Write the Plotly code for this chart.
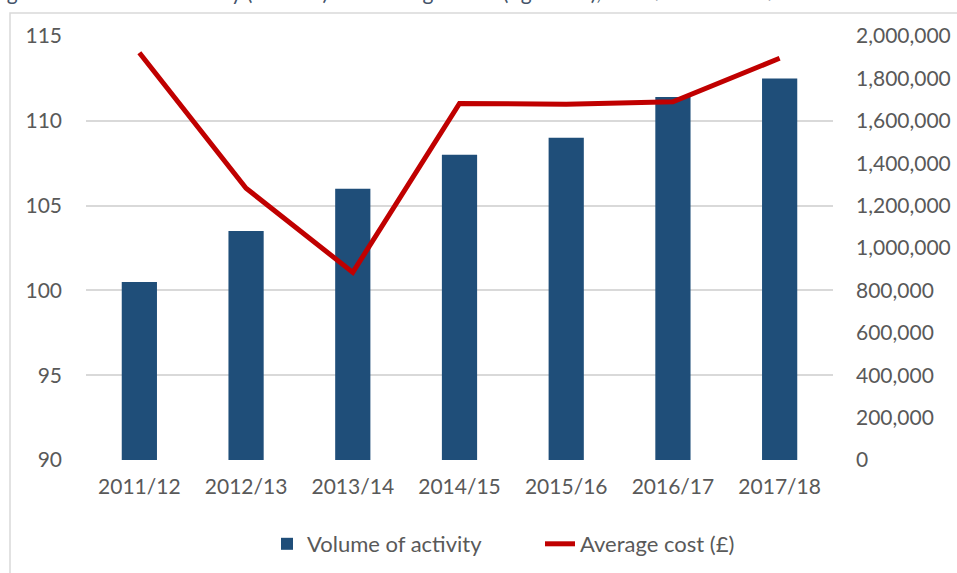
import plotly.graph_objects as go

categories = ["2011/12", "2012/13", "2013/14", "2014/15", "2015/16", "2016/17", "2017/18"]
volume = [100.5, 103.5, 106.0, 108.0, 109.0, 111.4, 112.5]
avg_cost = [1921000, 1282000, 885000, 1682000, 1678000, 1690000, 1895000]
left_ticks = [90, 95, 100, 105, 110, 115]
right_ticks = [0, 200000, 400000, 600000, 800000, 1000000, 1200000, 1400000, 1600000, 1800000, 2000000]

FONT = "Lato"
TXT = "#595959"
W, H = 957, 573
L, R, T, B = 86, 833, 36, 460

fig = go.Figure()
fig.add_trace(go.Bar(
    x=categories, y=volume, name="Volume of activity",
    marker=dict(color="#1F4E79", line=dict(color="#1F4E79", width=0)),
    width=0.33, yaxis="y",
))
fig.add_trace(go.Scatter(
    x=categories, y=avg_cost, name="Average cost (£)", mode="lines",
    line=dict(color="#C00000", width=5), yaxis="y2",
))

def px_x(p):
    return (p - L) / (R - L)

def px_y(p):
    return (B - p) / (B - T)

fig.update_layout(
    width=W, height=H,
    margin=dict(l=L, r=W - R, t=T, b=H - B, pad=0, autoexpand=False),
    paper_bgcolor="white", plot_bgcolor="white",
    font=dict(family=FONT, size=21, color=TXT),
    showlegend=True,
    legend=dict(
        orientation="h", xref="container", yref="container",
        x=267 / W, y=1 - 544 / H, xanchor="left", yanchor="middle",
        font=dict(family=FONT, size=22, color=TXT),
        itemwidth=30, entrywidth=228, traceorder="normal",
    ),
    xaxis=dict(
        type="category", showgrid=False, showline=False, zeroline=False,
        ticks="", tickfont=dict(family=FONT, size=21, color=TXT),
        ticklabelstandoff=12,
    ),
    yaxis=dict(
        range=[90, 115], tickvals=left_ticks, showgrid=True,
        gridcolor="#D9D9D9", gridwidth=1.5, zeroline=False, showline=False,
        ticks="", tickfont=dict(family=FONT, size=21, color=TXT),
        ticklabelstandoff=23,
    ),
    yaxis2=dict(
        range=[0, 2000000], tickvals=right_ticks, tickformat=",",
        overlaying="y", side="right", showgrid=False, zeroline=False,
        showline=False, ticks="", tickfont=dict(family=FONT, size=21, color=TXT),
        ticklabelstandoff=22,
    ),
    shapes=[
        dict(type="path", xref="paper", yref="paper",
             path=f"M {px_x(10)} {px_y(H + 5)} L {px_x(10)} {px_y(13)} L {px_x(W + 5)} {px_y(13)}",
             line=dict(color="#D9D9D9", width=1.5), layer="below"),
    ],
    annotations=[
        dict(text="Figure 4: Volume of activity (left axis) and average costs (right axis), 2011/12 to 2017/18",
             xref="paper", yref="paper", x=px_x(-12), y=px_y(6),
             xanchor="left", yanchor="bottom", showarrow=False,
             font=dict(family=FONT, size=21, color="#44546A")),
    ],
)

fig.write_html(
    "out.html",
    config={"displayModeBar": False},
    post_script="document.body.style.margin='0px';document.body.style.overflow='hidden';",
)
